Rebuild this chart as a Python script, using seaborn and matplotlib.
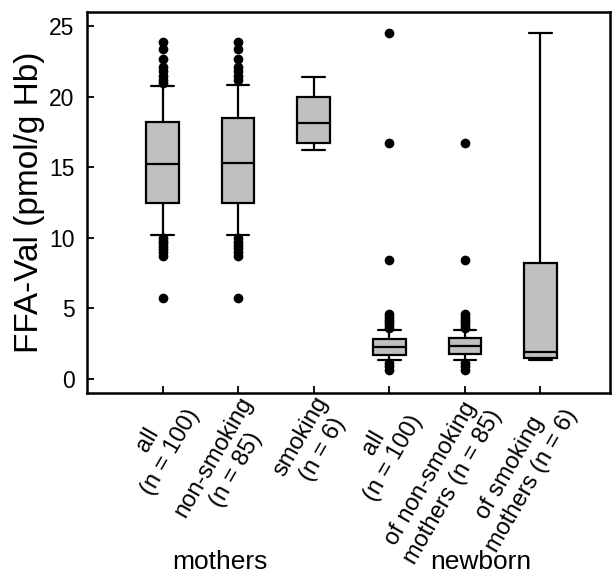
import numpy as np
import pandas as pd
import matplotlib
matplotlib.use("Agg")
import matplotlib.pyplot as plt
import seaborn as sns

# ---- data ----
groups = ["all\n(n = 100)", "non-smoking\n(n = 85)", "smoking\n(n = 6)",
          "all\n(n = 100) ", "of non-smoking\nmothers (n = 85)", "of smoking\nmothers (n = 6)"]
whislo = [10.2, 10.2, 16.2, 1.35, 1.35, 1.35]
q1     = [12.5, 12.5, 16.7, 1.70, 1.75, 1.45]
median = [15.2, 15.3, 18.1, 2.27, 2.30, 1.90]
q3     = [18.2, 18.5, 20.0, 2.83, 2.90, 8.20]
whishi = [20.75, 20.85, 21.4, 3.50, 3.50, 24.5]
outliers = [
    [23.9, 23.4, 22.7, 22.1, 21.8, 21.5, 21.2, 21.0, 10.0, 9.8, 9.6, 9.4, 9.2, 9.0, 8.7, 5.7],
    [23.9, 23.4, 22.7, 22.1, 21.8, 21.5, 21.2, 10.0, 9.7, 9.5, 9.3, 9.0, 8.7, 5.7],
    [],
    [24.5, 16.7, 8.45, 4.6, 4.4, 4.2, 4.0, 3.8, 3.6, 1.1, 0.9, 0.65],
    [16.7, 8.45, 4.6, 4.4, 4.2, 4.0, 3.8, 3.6, 1.1, 0.9, 0.65],
    [],
]
yticks = [0, 5, 10, 15, 20, 25]
group_titles = ["mothers", "newborn"]

# ---- long-form tables ----
box_rows = []
for g, a, b, c, d, e in zip(groups, whislo, q1, median, q3, whishi):
    for v in (a, b, c, d, e):
        box_rows.append({"group": g, "value": v})
box_df = pd.DataFrame(box_rows)
out_df = pd.DataFrame([{"group": g, "value": v} for g, vals in zip(groups, outliers) for v in vals])

sns.set_style("ticks")
plt.rcParams["font.family"] = ["Liberation Sans", "DejaVu Sans"]
plt.rcParams["text.color"] = "black"
plt.rcParams["axes.labelcolor"] = "black"
plt.rcParams["xtick.color"] = "black"
plt.rcParams["ytick.color"] = "black"

fig = plt.figure(figsize=(6.12, 5.74), dpi=100)
ax = fig.add_axes([87/612, 1 - 393/574, (610-87)/612, (393-12)/574])

lw = 1.6
sns.boxplot(data=box_df, x="group", y="value", order=groups, whis=np.inf,
            width=0.43, color="#c0c0c0", saturation=1, linewidth=lw, linecolor="black",
            ax=ax)
sns.stripplot(data=out_df, x="group", y="value", order=groups, jitter=False,
              color="black", size=7, linewidth=0, ax=ax, zorder=5)

# cap widths
for ln in ax.lines:
    xd = np.asarray(ln.get_xdata(), dtype=float)
    yd = np.asarray(ln.get_ydata(), dtype=float)
    if len(xd) == 2 and yd[0] == yd[1] and xd[0] != xd[1]:
        c = xd.mean()
        w = abs(xd[1] - xd[0])
        if w < 0.42:
            ln.set_xdata([c - 0.15, c + 0.15])

ax.set_xlim(-1.0, 5.92)
ax.set_ylim(-1.0, 26.0)
ax.set_yticks(yticks)
ax.set_xlabel("")
ax.set_ylabel("FFA-Val (pmol/g Hb)", fontsize=24, labelpad=3, color="black")
ax.tick_params(axis="both", direction="in", length=5, width=1.3, labelsize=16.5,
               color="black", labelcolor="black")
ax.tick_params(axis="y", pad=9)
ax.tick_params(axis="x", pad=0)
ax.tick_params(top=False, right=False)
ax.set_xticks(range(len(groups)))
ax.set_xticklabels(groups, rotation=60, ha="right", va="top", rotation_mode="anchor",
                   multialignment="center", fontsize=17)
for s in ax.spines.values():
    s.set_visible(True)
    s.set_linewidth(1.8)
    s.set_color("black")

fig.text(220/612, 1 - 569/574, group_titles[0], fontsize=19, ha="center", va="baseline")
fig.text(481/612, 1 - 569/574, group_titles[1], fontsize=19, ha="center", va="baseline")

fig.savefig("out.png", dpi=100)
